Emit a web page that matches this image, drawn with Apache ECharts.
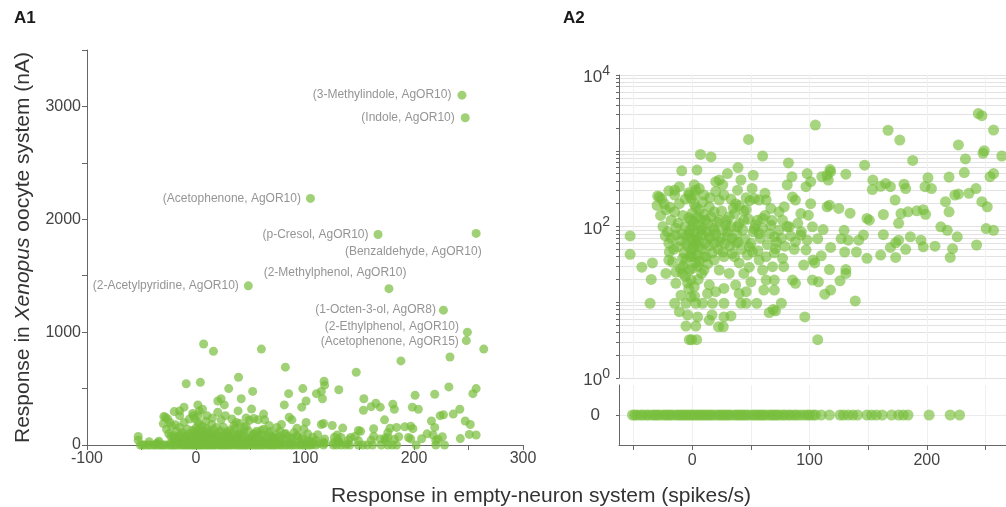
<!DOCTYPE html>
<html>
<head>
<meta charset="utf-8">
<script src="https://cdn.jsdelivr.net/npm/echarts@6/dist/echarts.min.js"></script>
<style>
html,body{margin:0;padding:0;width:1006px;height:507px;overflow:hidden;background:#fff;}
#c{width:1060px;height:507px;}
</style>
</head>
<body>
<div id="c"></div>
<script>
// ---------------- DATA ----------------
const labeledOdorants = ['(3-Methylindole, AgOR10)','(Indole, AgOR10)','(Acetophenone, AgOR10)','(p-Cresol, AgOR10)','(Benzaldehyde, AgOR10)','(2-Methylphenol, AgOR10)','(2-Acetylpyridine, AgOR10)','(1-Octen-3-ol, AgOR8)','(2-Ethylphenol, AgOR10)','(Acetophenone, AgOR15)'];
const labeledSpikes   = [244, 247, 105, 167, 257, 177, 48, 227, 249, 248];
const labeledCurrents = [3100, 2900, 2185, 1865, 1875, 1385, 1410, 1195, 1000, 925];

// unlabeled odorant-receptor pairs with a measurable oocyte current: [spikes/s, nA]
const respondingPairs = [
[-9,543],[4,555],[7,895],[16,830],[30,500],[39,600],[52,475],[60,850],[82,690],[85,455],[98,500],[117.5,565],[115,475],[131,490],[147,645],[154,410],[188,745],[201,440],[219,450],[233,780],[232,515],[264,850],[254,455],[257,500],
[23,410],[20,390],[26,355],[41.5,410],[51,318],[38.6,302],[81,355],[101,390],[97,335],[110.5,455],[118,530],[116,410],[153.6,308],[160.7,340],[165,370],[169,335],[173,223],[180.6,362],[182,317],[198.5,335],[204,317],[227,268],[224,260],[236,274],[242,317],[247,213],[251.6,182],[250.7,94],[257,89],[242.5,57],
[216,213],[219,156],[212,99],[217.5,89],[226,73],[222,51],[220,39],[207,55],[197,54],[195,66],[197,167],[199,145],[191.5,161],[184,156],[178,148],[176,110],[186,73],[176,66],[173.5,61],[182,50],[169,53],[173.5,39],[160.7,42],[163,78],[163,144],
[149,128],[151,121],[146,77],[142,66],[140,46],[149,38],[134.6,150],[125,173],[117,191],[115,182],[129.5,89],[127,69],[133,66],[118,53],[130,46],[131,27],[117,27],[110,41],[102.5,99],[107,69],[111.6,91],[98,66],[101,200],[99,141],[92.6,148],[88,223],[85.5,246],
[92.6,77],[88,63],[97,49],[95,31],[82.6,99],[77,121],[78.4,182],[74,156],[71,51],[77,38],[78,29.5],[68.4,29.5],[63,40],[70,73],[67,104],[63,223],[62,274],[67,173],[57,223],[53,235],[49,219],[46,166],[55.6,121],[60,128],[57,81],[53,94],[48.6,54],[51.4,46],[57,36],[60,26.6],
[44,121],[37,200],[36,148],[31.5,134],[38.6,99],[28.7,104],[30,73],[37,60],[34,44],[40,33],[48.6,29],[44,24],[23,223],[14.5,182],[18.7,156],[23,121],[18.7,89],[23,63],[26,46],[18.7,36],[23,26.6],[31.5,24],
[10,260],[6,317],[3,302],[-1,235],[1.7,200],[6,166],[4.5,134],[-1,121],[0.3,99],[7.4,89],[-2.5,81],[1.7,66],[-5.4,60],[6,54],[-1,44],[-5.4,36],[3,33],[-2.5,26.6],[10,26.6],[11.7,40],[14.5,73],[11.7,121],
[-11,335],[-15,302],[-20,296],[-29.5,252],[-26,230],[-22.5,166],[-15,156],[-18,121],[-21,85],[-14,77],[-19.6,46],[-12.5,54],[-8.2,38],[-16.8,34],[-20,36],[-14,25],[-8.2,24],[-53,75],[-53,43],[-43,29],[-34,33],[-35,20],[1.7,355],[-2.5,260],
[-36,9.7],[-22.5,24],[-14,17.8],[-9.6,12.4],[-15,9.7],[-11,7.5],[-5.4,9.7],[-4,6.8],[-5.4,4.85],[-2.5,3.2],[-0.5,3.2],[3.7,3.2],[3,4.85],[4.5,6.4],[3,9.7],[-1,11.8],[1.7,16],[-1,19.6],[8.8,9.7],[13,13],[14.5,5.8],[16.8,6.8],[22.4,4.75],[26.4,4.75],[17.3,9.7],[27,9.7],[27,6.4],[33,6.6],[20,13.8],[27,15.2],[14.5,17],
[37,16.9],[40,13],[46,13.8],[41.5,9.7],[46,9.7],[55,9.7],[50,18.6],[61,14.5],[70,14.5],[63,19.6],[70,19.6],[65.6,7.3],[69,8],[71,7.7],[76,9.7],[85.5,19.6],[88,17.8],[96,6.4],[102.5,19.6],[107.6,18.6],[113,12.8],[118,14.5],[126,19.2],[131,24],[139,10.4],[107,3.2],[103,36],[104.5,33],
[-20,60],[-18,70],[-16,50],[-14,95],[-12,110],[-10,65],[-9,80],[-8,140],[-7,45],[-6,100],[-5,75],[-4,55],[-3,130],[-2,90],[-1,70],[0,50],[0,150],[1,40],[1,115],[2,85],[3,60],[3,180],[4,42],[4,72],[5,105],[5,30],[6,65],[7,125],[8,50],[8,78],[9,95],[10,40],[10,145],[11,60],[12,85],[13,32],[13,110],[14,55],[15,70],[16,135],[17,45],[18,95],[19,60],[20,80],[21,115],[22,50],[24,70],[25,160],[26,90],[27,40],[28,60],[29,120],[30,85],
[32,55],[33,100],[34,70],[35,175],[36,40],[38,80],[39,62],[40,110],[42,50],[43,90],[44,160],[45,68],[47,42],[48,125],[50,60],[52,85],[54,105],[56,48],[58,70],[60,95],[62,140],[64,58],[66,80],[68,120],[70,45],[72,62],[74,90],[76,70],[79,55],[81,100],[84,75],[87,50],[90,110],[93,85],
[-23,75],[-25,100],[-27,140],[-19,180],[-15,260],[-11,200],[-6,230],[-3,280],[2,260],[9,210],[15,240],[20,290],[27,260],[33,230],[40,190],[46,240],[-30,190],[-28,245],[-24,200],
[-6,22],[-3,15],[0,28],[2,12],[5,20],[-8,30],[-2,40],[6,35],[-4,18],[1,55],[-10,28],[8,24]
];

// odorant-receptor pairs with no oocyte current (0 nA): spikes/s
const nonRespondingSpikes = [-51,-49,-47,-44,-42,-39,-37,-34,-32,-30,-28,-25,-23,-21,-19,-17,-14,-12,-10,-8,-6,-4,-2,0,2,4,6,8,10,12,14,16,18,21,23,25,27,29,31,33,36,38,40,42,44,46,48,51,53,55,57,59,61,63,66,68,70,72,74,77,79,82,84,87,89,92,95,98,100,103,105,110,117,126,129,133,137,141,149,153,157,162,170,176,180,184,202,220,228];

// axis ticks
const a1XTicks = [-100,-50,0,50,100,150,200,250,300];
const a2XTicks = [-50,0,50,100,150,200,250,300];
const a2XLabels = [0,100,200];
const a2LogDecades = [0,1,2,3,4];
const a2LogLabels = [0,2,4];

// ---------------- BUILD ----------------
const GREEN = '#78be3c';
const FONT = '"Liberation Sans", Arial, Helvetica, sans-serif';
const AXIS_C = '#666';
const TXT_C = '#444';

const a1Points = respondingPairs.map(p => [p[0], p[1]]).concat(nonRespondingSpikes.map(x => [x, 0]));
const labeledData = labeledSpikes.map((x, i) => [x, labeledCurrents[i], labeledOdorants[i]]);
const a2Upper = respondingPairs.concat(labeledSpikes.map((x, i) => [x, labeledCurrents[i]]))
  .map(p => [p[0], Math.log10(p[1])]);
const a2Zero = nonRespondingSpikes.map(x => [x, 0]);

// log minor ticks (1..9 x 10^k)
const logTicks = [];
a2LogDecades.forEach(d => {
  if (d === 4) { logTicks.push(4); return; }
  for (let k = 1; k <= 9; k++) logTicks.push(d + Math.log10(k));
});

// label placement (style only)
const labelPlace = [
  {offset:[-1,0]}, {offset:[-1,0]}, {offset:[0,0]}, {offset:[0,0]},
  {offset:[15,18]}, {offset:[27,-16]}, {offset:[0,0]}, {offset:[2,0]},
  {offset:[1,-5]}, {offset:[2,1]}
];

const chart = echarts.init(document.getElementById('c'), null, {renderer: 'canvas'});

const option = {
  animation: false,
  textStyle: {fontFamily: FONT},
  grid: [
    {left: 87, top: 50, width: 436, height: 395},
    {left: 619, top: 75, width: 425, height: 303},
    {left: 619, top: 385, width: 425, height: 60}
  ],
  xAxis: [
    {
      gridIndex: 0, type: 'value', min: -100, max: 300, interval: 50,
      axisLine: {show: true, onZero: false, lineStyle: {color: AXIS_C, width: 1}},
      axisTick: {show: true, length: 5, lineStyle: {color: AXIS_C}},
      axisLabel: {color: TXT_C, fontSize: 16, fontFamily: FONT, margin: 6,
        formatter: v => (a1XTicks.includes(v) && v % 100 === 0) ? String(v) : ''},
      splitLine: {show: false}
    },
    {
      gridIndex: 1, type: 'value', min: -62.5, max: 300,
      axisLine: {show: false, onZero: false}, axisTick: {show: false, customValues: a2XTicks},
      axisLabel: {show: false},
      splitLine: {show: true, lineStyle: {color: '#f0f0f0', width: 1}}
    },
    {
      gridIndex: 2, type: 'value', min: -62.5, max: 300,
      axisLine: {show: true, onZero: false, lineStyle: {color: AXIS_C}},
      axisTick: {show: true, length: 5, customValues: a2XTicks, lineStyle: {color: AXIS_C}},
      axisLabel: {show: true, customValues: a2XLabels, color: TXT_C, fontSize: 16, fontFamily: FONT, margin: 8},
      splitLine: {show: true, lineStyle: {color: '#f0f0f0', width: 1}}
    }
  ],
  yAxis: [
    {
      gridIndex: 0, type: 'value', min: 0, max: 3500, interval: 500,
      axisLine: {show: true, onZero: false, lineStyle: {color: AXIS_C}},
      axisTick: {show: true, length: 5, lineStyle: {color: AXIS_C}},
      axisLabel: {color: TXT_C, fontSize: 16, fontFamily: FONT, margin: 6,
        formatter: v => (v % 1000 === 0) ? String(v) : ''},
      splitLine: {show: false},
      name: 'Response in {i|Xenopus} oocyte system (nA)',
      nameLocation: 'middle', nameGap: 53, nameRotate: 90,
      nameTextStyle: {color: '#333', fontSize: 21, fontFamily: FONT,
        rich: {i: {fontStyle: 'italic', fontSize: 21, color: '#333', fontFamily: FONT}}}
    },
    {
      gridIndex: 1, type: 'value', min: 0, max: 4,
      axisLine: {show: true, onZero: false, lineStyle: {color: AXIS_C}},
      axisTick: {show: true, length: 3, customValues: logTicks, lineStyle: {color: AXIS_C}},
      axisLabel: {show: true, customValues: a2LogLabels, margin: 9,
        formatter: v => '{b|10}{s|' + Math.round(v) + '}',
        rich: {
          b: {fontSize: 17, color: TXT_C, fontFamily: FONT, lineHeight: 22, verticalAlign: 'bottom'},
          s: {fontSize: 14, color: TXT_C, fontFamily: FONT, lineHeight: 22, verticalAlign: 'top', padding: [0,0,8,0]}
        }},
      splitLine: {show: true, lineStyle: {color: '#e2e2e2', width: 1}}
    },
    {
      gridIndex: 2, type: 'value', min: -1, max: 1,
      axisLine: {show: true, onZero: false, lineStyle: {color: AXIS_C}},
      axisTick: {show: true, length: 3, customValues: [0], lineStyle: {color: AXIS_C}},
      axisLabel: {show: true, customValues: [0], color: TXT_C, fontSize: 17, fontFamily: FONT, margin: 19},
      splitLine: {show: true, lineStyle: {color: '#ececec', width: 1}}
    }
  ],
  series: [
    {
      type: 'scatter', xAxisIndex: 0, yAxisIndex: 0, data: a1Points,
      symbolSize: 9, itemStyle: {color: GREEN, opacity: 0.7}, silent: true
    },
    {
      type: 'scatter', xAxisIndex: 0, yAxisIndex: 0,
      data: labeledData.map((d, i) => ({
        value: d,
        label: {show: true, position: 'left', distance: 5, offset: labelPlace[i].offset,
          formatter: d[2], color: '#666', fontSize: 12, fontFamily: FONT}
      })),
      symbolSize: 9, itemStyle: {color: GREEN, opacity: 0.7}, silent: true
    },
    {
      type: 'scatter', xAxisIndex: 1, yAxisIndex: 1, data: a2Upper,
      symbolSize: 11, itemStyle: {color: GREEN, opacity: 0.65}, silent: true
    },
    {
      type: 'scatter', xAxisIndex: 2, yAxisIndex: 2, data: a2Zero,
      symbolSize: 11, itemStyle: {color: GREEN, opacity: 0.65}, silent: true
    }
  ],
  graphic: [
    {type: 'text', left: 14, top: 10, style: {text: 'A1', font: 'bold 17px ' + FONT, fill: '#1a1a1a'}},
    {type: 'text', left: 563, top: 10, style: {text: 'A2', font: 'bold 17px ' + FONT, fill: '#1a1a1a'}},
    {type: 'text', x: 541, y: 496, style: {text: 'Response in empty-neuron system (spikes/s)', font: '21px ' + FONT, fill: '#333', textAlign: 'center', textVerticalAlign: 'middle'}}
  ]
};
chart.setOption(option);
</script>
</body>
</html>
